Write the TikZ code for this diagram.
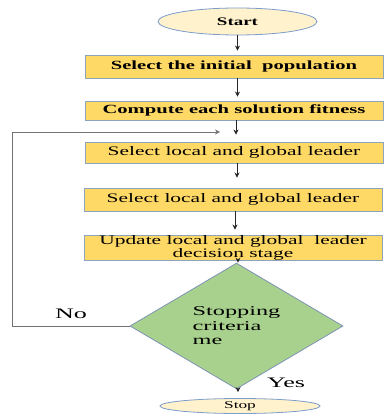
\documentclass[tikz,border=0pt]{standalone}
\usepackage{fontspec}
\setmainfont{Liberation Serif}
\newfontfamily\flowfont[FakeStretch=1.65]{Liberation Serif}
\newfontfamily\widefont[FakeStretch=1.8]{Liberation Serif}
\usetikzlibrary{arrows.meta,positioning,shapes.geometric}
\definecolor{boxfill}{HTML}{FFD966}
\definecolor{boxline}{HTML}{8EA4BC}
\definecolor{termfill}{HTML}{FFF2CC}
\definecolor{termline}{HTML}{7C9CCB}
\definecolor{decfill}{HTML}{A9D18E}
\tikzset{
      stepbox/.style={
        draw=boxline,
        line width=0.9pt,
        fill=boxfill,
        minimum width=298pt,
        inner sep=0pt,
        align=center,
        font=\flowfont\fontsize{13}{13}\selectfont
      },
      termbox/.style={
        ellipse,
        draw=termline,
        line width=0.8pt,
        fill=termfill,
        inner sep=0pt,
        font=\flowfont\bfseries\fontsize{11.5}{13}\selectfont
      },
      decisionbox/.style={
        diamond,
        draw=termline!70!gray,
        line width=0.8pt,
        fill=decfill,
        inner sep=0pt,
        minimum width=213pt,
        minimum height=95pt,
        align=left,
        font=\widefont\fontsize{13.5}{14.5}\selectfont
      },
      flowarrow/.style={
        -{Stealth[length=5pt,width=5pt]},
        line width=0.7pt,
        color=black!85
      },
      looparrow/.style={
        -{Stealth[length=5pt,width=5pt]},
        line width=0.7pt,
        color=black!55
      },
      flowlabel/.style={
        font=\widefont\fontsize{14.5}{15}\selectfont
      }
    }
\begin{document}
\begin{tikzpicture}[x=1pt,y=-1pt]
    \useasboundingbox (0,0) rectangle (385,414);
    \node[termbox, minimum width=159pt, minimum height=27pt] (start) at (237.5,21.5) {Start};
    \node[stepbox, minimum height=23pt, font=\flowfont\bfseries\fontsize{12.5}{13}\selectfont] (s1) at (234,66.5) {Select the initial\ \ population};
    \node[stepbox, minimum height=19pt, font=\flowfont\bfseries\fontsize{12.5}{13}\selectfont] (s2) at (234,110.5) {Compute each solution fitness};
    \node[stepbox, minimum height=21pt] (s3) at (234,152.5) {Select local and global leader};
    \node[stepbox, minimum height=23pt] (s4) at (233,199.5) {Select local and global leader};
    \node[stepbox, minimum height=25pt] (s5) at (233,247.5) {Update local and global\ \ leader\\decision stage};
    \node[decisionbox] (dec) at (236.5,326) {Stopping\\criteria\\me};
    \node[termbox, minimum width=160pt, minimum height=15pt, font=\flowfont\fontsize{10.5}{12}\selectfont] (stop) at (240,406) {Stop};
    \coordinate (loopcorner) at (12,326);
    \coordinate (loopend) at (220,132);
    \draw[flowarrow, shorten >=4pt] (start.south) -- (s1.north -| start.south);
    \draw[flowarrow, shorten >=4pt] (s1.south -| start.south) -- (s2.north -| start.south);
    \draw[flowarrow, shorten >=7pt] (s2.south -| 236,0) -- (s3.north -| 236,0);
    \draw[flowarrow, shorten >=10pt] (s3.south -| 237,0) -- (s4.north -| 237,0);
    \draw[flowarrow, shorten >=5pt] (s4.south -| 235,0) -- (s5.north -| 235,0);
    \draw[flowarrow] (s5.south -| 238,0) -- (dec.north -| 238,0);
    \draw[flowarrow, shorten >=6pt] (dec.south -| 238,0) -- (stop.north -| 238,0);
    \draw[looparrow] (dec.west) -- (loopcorner) |- (loopend);
    \node[flowlabel] (nolabel) at (71,314) {No};
    \node[flowlabel] (yeslabel) at (286,383) {Yes};
\end{tikzpicture}
\end{document}
